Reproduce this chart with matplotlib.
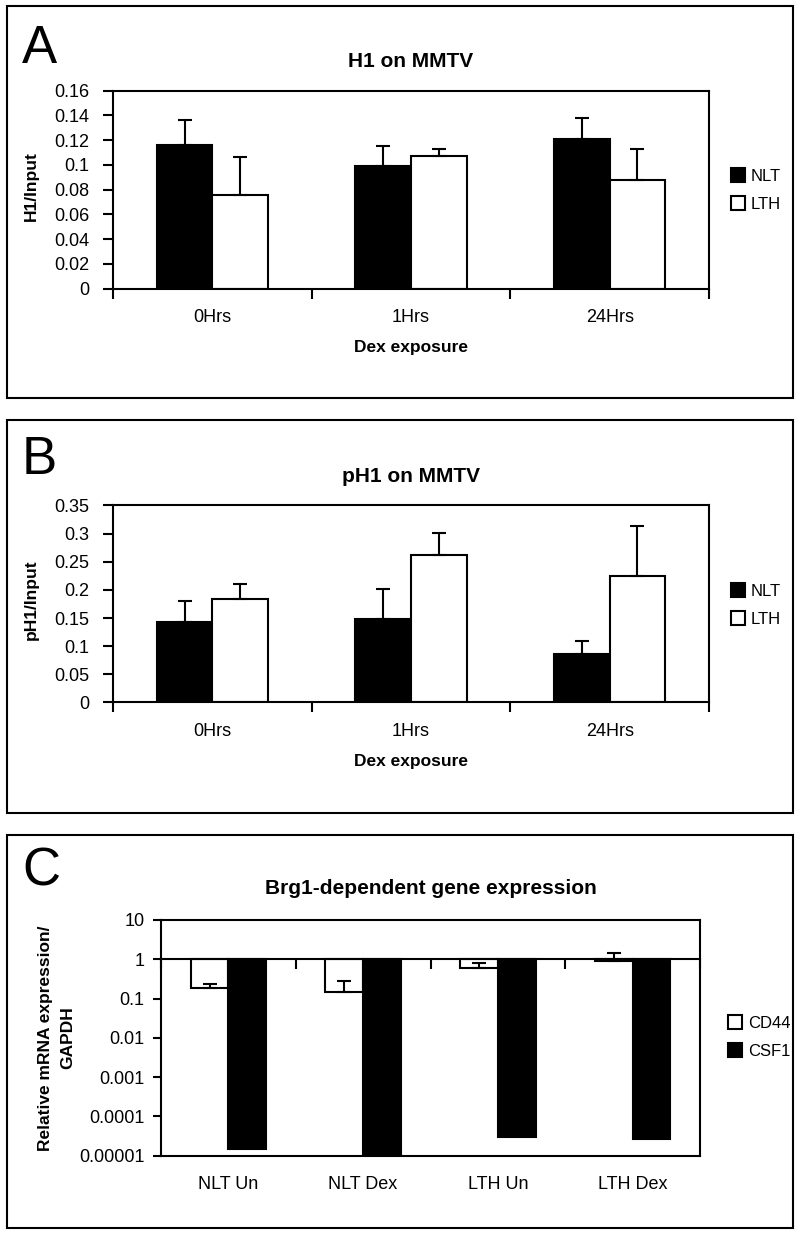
import matplotlib
matplotlib.use("Agg")
import matplotlib.pyplot as plt
import numpy as np
from matplotlib.patches import Rectangle

plt.rcParams['font.family'] = ['Liberation Sans', 'DejaVu Sans']
plt.rcParams['font.size'] = 12

# ---- data ----
hours = ["0Hrs", "1Hrs", "24Hrs"]

h1_nlt = [0.116, 0.099, 0.121]
h1_nlt_err = [0.020, 0.016, 0.017]
h1_lth = [0.076, 0.107, 0.088]
h1_lth_err = [0.030, 0.006, 0.025]
h1_ticks = [0, 0.02, 0.04, 0.06, 0.08, 0.10, 0.12, 0.14, 0.16]
h1_labels = ["0", "0.02", "0.04", "0.06", "0.08", "0.1", "0.12", "0.14", "0.16"]

ph1_nlt = [0.143, 0.148, 0.087]
ph1_nlt_err = [0.037, 0.054, 0.022]
ph1_lth = [0.184, 0.262, 0.224]
ph1_lth_err = [0.026, 0.040, 0.090]
ph1_ticks = [0, 0.05, 0.10, 0.15, 0.20, 0.25, 0.30, 0.35]
ph1_labels = ["0", "0.05", "0.1", "0.15", "0.2", "0.25", "0.3", "0.35"]

samples = ["NLT Un", "NLT Dex", "LTH Un", "LTH Dex"]
cd44 = [0.185, 0.15, 0.59, 0.88]
cd44_err = [0.055, 0.13, 0.22, 0.56]
csf1 = [1.5e-5, 9e-6, 3.0e-5, 2.7e-5]
log_ticks = [1e-5, 1e-4, 1e-3, 1e-2, 1e-1, 1, 10]
log_labels = ["0.00001", "0.0001", "0.001", "0.01", "0.1", "1", "10"]

W, H = 800, 1234
fig = plt.figure(figsize=(8, 12.34), dpi=100)


def rect(x0, y0, x1, y1):
    # pixel box (top-left origin) -> figure fraction
    return [x0 / W, 1 - y1 / H, (x1 - x0) / W, (y1 - y0) / H]


def frame(x0, y0, x1, y1):
    fig.add_artist(Rectangle((x0 / W, 1 - y1 / H), (x1 - x0) / W, (y1 - y0) / H,
                             transform=fig.transFigure, fill=False,
                             edgecolor="black", lw=1.5))


bw = 0.28


def grouped_panel(axbox, title, ylabel, nlt, nlt_err, lth, lth_err,
                  ticks, labels, leg_y):
    ax = fig.add_axes(rect(*axbox))
    hpx = axbox[3] - axbox[1]
    wpx = axbox[2] - axbox[0]
    centers = np.arange(len(hours)) + 0.5
    ax.bar(centers - bw / 2, nlt, bw, color="black", edgecolor="black",
           lw=1.5, label="NLT", zorder=2)
    ax.bar(centers + bw / 2, lth, bw, color="white", edgecolor="black",
           lw=1.5, label="LTH", zorder=2)
    ax.errorbar(centers - bw / 2, nlt, yerr=[np.zeros(len(nlt)), nlt_err],
                fmt="none", ecolor="black", elinewidth=1.5, capsize=5,
                capthick=1.5, zorder=3)
    ax.errorbar(centers + bw / 2, lth, yerr=[np.zeros(len(lth)), lth_err],
                fmt="none", ecolor="black", elinewidth=1.5, capsize=5,
                capthick=1.5, zorder=3)
    ax.set_xlim(0, len(hours))
    ax.set_ylim(ticks[0], ticks[-1])
    ax.set_yticks(ticks, labels)
    ax.set_xticks(np.arange(len(hours) + 1), [""] * (len(hours) + 1))
    ax.set_xticks(centers, hours, minor=True)
    ax.tick_params(axis="x", which="major", length=7, width=1.5)
    ax.tick_params(axis="x", which="minor", length=0, pad=14.5, labelsize=13)
    ax.tick_params(axis="y", length=7, width=1.5, pad=10, labelsize=13)
    for s in ax.spines.values():
        s.set_linewidth(1.5)
    ax.set_title(title, fontsize=15, fontweight="bold", y=1 + 29 / hpx,
                 pad=0, va="center")
    ax.set_xlabel("Dex exposure", fontsize=12.5, fontweight="bold", va="center")
    ax.xaxis.set_label_coords(0.5, -59 / hpx)
    ax.set_ylabel(ylabel, fontsize=12.5, fontweight="bold", va="center")
    ax.yaxis.set_label_coords((31 - axbox[0]) / wpx, 0.52)
    ax.legend(loc="center left", bbox_to_anchor=(731 / W, 1 - leg_y / H),
              bbox_transform=fig.transFigure, frameon=False, fontsize=12,
              handlelength=0.85, handleheight=0.85, handletextpad=0.35,
              labelspacing=0.75, borderpad=0, borderaxespad=0)
    return ax


# panel A
frame(7, 6, 793, 398)
fig.text(22 / W, 1 - 63 / H, "A", fontsize=38, va="baseline")
grouped_panel((113, 90.7, 709, 288.5), "H1 on MMTV", "H1/Input",
              h1_nlt, h1_nlt_err, h1_lth, h1_lth_err, h1_ticks, h1_labels, 190)

# panel B
frame(7, 420, 793, 813)
fig.text(22 / W, 1 - 474 / H, "B", fontsize=38, va="baseline")
grouped_panel((113, 505.5, 709, 702.5), "pH1 on MMTV", "pH1/Input",
              ph1_nlt, ph1_nlt_err, ph1_lth, ph1_lth_err, ph1_ticks, ph1_labels, 605)

# panel C
frame(7, 834.5, 793, 1228)
fig.text(22 / W, 1 - 886 / H, "C", fontsize=38, va="baseline")
cbox = (161, 920, 700, 1155.7)
axc = fig.add_axes(rect(*cbox))
chpx = cbox[3] - cbox[1]
cwpx = cbox[2] - cbox[0]
axc.set_yscale("log")
pos = np.arange(len(samples)) + 0.5
cw = 0.28
axc.bar(pos - cw / 2, np.array(cd44) - 1, cw, bottom=1, color="white",
        edgecolor="black", lw=1.5, label="CD44", zorder=2)
axc.bar(pos + cw / 2, np.array(csf1) - 1, cw, bottom=1, color="black",
        edgecolor="black", lw=1.5, label="CSF1", zorder=2)
axc.errorbar(pos - cw / 2, cd44, yerr=[np.zeros(len(cd44)), cd44_err],
             fmt="none", ecolor="black", elinewidth=1.5, capsize=5,
             capthick=1.5, zorder=3)
axc.set_xlim(0, len(samples))
axc.set_ylim(log_ticks[0], log_ticks[-1])
axc.set_yticks(log_ticks, log_labels)
axc.yaxis.set_minor_locator(matplotlib.ticker.NullLocator())
axc.tick_params(axis="y", length=6, width=1.5, pad=6, labelsize=13)
# category axis crosses at 1: move top spine there, ticks point down
axc.spines["top"].set_position(("data", 1))
axc.set_xticks(np.arange(len(samples) + 1), [""] * (len(samples) + 1))
axc.set_xticks(pos, samples, minor=True)
axc.tick_params(axis="x", which="major", bottom=False, top=True,
                direction="in", length=7, width=1.5)
axc.tick_params(axis="x", which="minor", bottom=True, top=False, length=0,
                pad=14.5, labelsize=13)
axc.axhline(log_ticks[-1], color="black", lw=1.5, clip_on=False, zorder=4)
for s in axc.spines.values():
    s.set_linewidth(1.5)
axc.set_title("Brg1-dependent gene expression", fontsize=15, fontweight="bold",
              y=1 + 31 / chpx, pad=0, va="center")
axc.set_ylabel("Relative mRNA expression/\nGAPDH", fontsize=12.5,
               fontweight="bold", va="center", linespacing=1.6)
axc.yaxis.set_label_coords((56.5 - cbox[0]) / cwpx, 0.5)
axc.legend(loc="center left", bbox_to_anchor=(728 / W, 1 - 1037 / H),
           bbox_transform=fig.transFigure, frameon=False, fontsize=12,
           handlelength=0.85, handleheight=0.85, handletextpad=0.35,
           labelspacing=0.75, borderpad=0, borderaxespad=0)

fig.savefig("out.png", dpi=100)
